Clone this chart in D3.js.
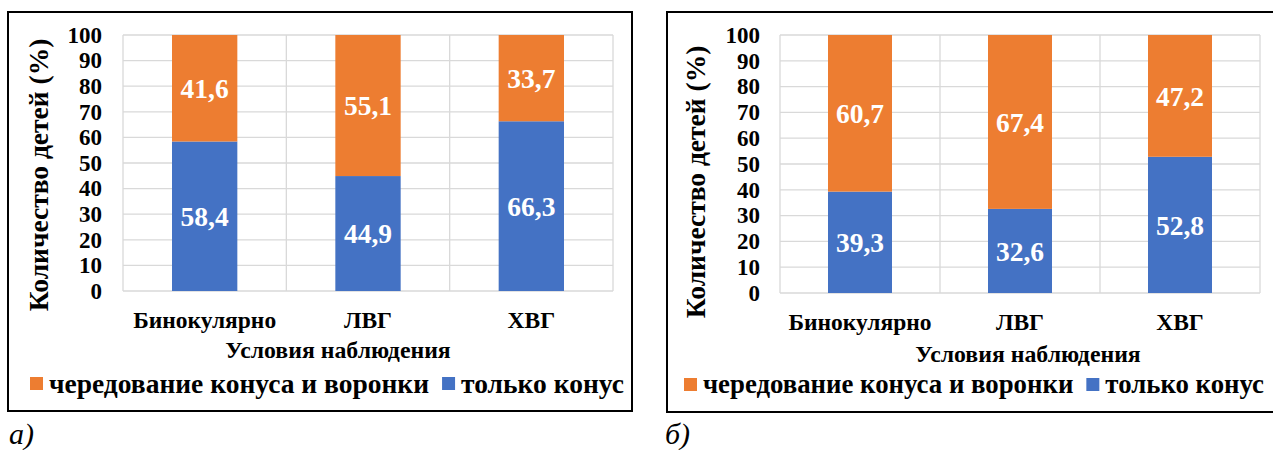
<!DOCTYPE html>
<html>
<head>
<meta charset="utf-8">
<script src="https://cdn.jsdelivr.net/npm/d3@7"></script>
<style>
  html, body { margin: 0; padding: 0; background: #fff; }
  svg { display: block; }
</style>
</head>
<body>
<svg id="chart" width="1273" height="450"></svg>
<script>
const categories = ["Бинокулярно", "ЛВГ", "ХВГ"];
const seriesNames = ["чередование конуса и воронки", "только конус"];
const coneA = [58.4, 44.9, 66.3];
const altA = [41.6, 55.1, 33.7];
const coneB = [39.3, 32.6, 52.8];
const altB = [60.7, 67.4, 47.2];
const yTicks = [0, 10, 20, 30, 40, 50, 60, 70, 80, 90, 100];
const yTitle = "Количество детей (%)";
const xTitle = "Условия наблюдения";
const panelLabels = ["а)", "б)"];

const ORANGE = "#ED7D31", BLUE = "#4472C4", GRID = "#D9D9D9";
const FONT = "'Liberation Serif'";
const svg = d3.select("#chart");

function fmt(v) { return v.toFixed(1).replace(".", ","); }

function panel(cfg, cone, alt, label) {
  const g = svg.append("g");
  g.append("rect").attr("x", cfg.bx0).attr("y", cfg.by0)
    .attr("width", cfg.bx1 - cfg.bx0).attr("height", cfg.by1 - cfg.by0)
    .attr("fill", "none").attr("stroke", "#000").attr("stroke-width", 2);

  const x = d3.scaleBand().domain(categories).range([cfg.px0, cfg.px1])
    .paddingInner(0.6).paddingOuter(0.3);
  const y = d3.scaleLinear().domain([0, 100]).range([cfg.py1, cfg.py0]);

  g.append("g").selectAll("line").data(yTicks).join("line")
    .attr("x1", cfg.px0).attr("x2", cfg.px1)
    .attr("y1", d => y(d)).attr("y2", d => y(d))
    .attr("stroke", GRID).attr("stroke-width", 1.3);
  const bounds = [cfg.px0].concat(categories.map((c, i) => cfg.px0 + (i + 1) * x.step()));
  g.append("g").selectAll("line").data(bounds).join("line")
    .attr("x1", d => d).attr("x2", d => d)
    .attr("y1", cfg.py0).attr("y2", cfg.py1)
    .attr("stroke", GRID).attr("stroke-width", 1.3);

  const rows = categories.map((c, i) => ({ cat: c, cone: cone[i], alt: alt[i] }));
  const stack = d3.stack().keys(["cone", "alt"])(rows);
  const colors = { cone: BLUE, alt: ORANGE };

  stack.forEach(layer => {
    g.append("g").selectAll("rect").data(layer).join("rect")
      .attr("x", d => x(d.data.cat))
      .attr("width", x.bandwidth())
      .attr("y", d => y(d[1]))
      .attr("height", d => y(d[0]) - y(d[1]))
      .attr("fill", colors[layer.key]);
    g.append("g").selectAll("text").data(layer).join("text")
      .attr("x", d => x(d.data.cat) + x.bandwidth() / 2)
      .attr("y", d => (y(d[0]) + y(d[1])) / 2)
      .attr("dy", "0.35em")
      .attr("text-anchor", "middle")
      .style("font-family", FONT)
      .attr("fill", "#fff").attr("font-weight", "bold").attr("font-size", 27.5)
      .text(d => fmt(d.data[layer.key]));
  });

  const yAxis = d3.axisLeft(y).tickValues(yTicks).tickSize(0).tickPadding(cfg.tickPad);
  const ya = g.append("g").attr("transform", `translate(${cfg.px0},0)`).call(yAxis);
  ya.select(".domain").remove();
  ya.selectAll("text").style("font-family", FONT)
    .attr("font-weight", "bold").attr("font-size", 23).attr("fill", "#000");

  const xAxis = d3.axisBottom(x).tickSize(0).tickPadding(cfg.xPad);
  const xa = g.append("g").attr("transform", `translate(0,${cfg.py1})`).call(xAxis);
  xa.select(".domain").remove();
  xa.selectAll("text").style("font-family", FONT)
    .attr("font-weight", "bold").attr("font-size", 23.5).attr("fill", "#000");

  g.append("text")
    .attr("transform", `translate(${cfg.ytX},${cfg.ytY}) rotate(-90)`)
    .attr("text-anchor", "middle").attr("dy", "0.35em")
    .style("font-family", FONT)
    .attr("font-weight", "bold").attr("font-size", 27.5)
    .text(yTitle);
  g.append("text").attr("x", cfg.xtX).attr("y", cfg.xtY)
    .attr("text-anchor", "middle").attr("dy", "0.35em")
    .style("font-family", FONT)
    .attr("font-weight", "bold").attr("font-size", 23.8)
    .text(xTitle);

  const lg = g.append("g");
  const items = [{ name: seriesNames[0], color: ORANGE }, { name: seriesNames[1], color: BLUE }];
  let lx = cfg.legX;
  items.forEach(it => {
    lg.append("rect").attr("x", lx).attr("y", cfg.legY - 6).attr("width", 13).attr("height", 13)
      .attr("fill", it.color);
    const t = lg.append("text").attr("x", lx + 19).attr("y", cfg.legY).attr("dy", "0.35em")
      .style("font-family", FONT)
      .attr("font-weight", "bold").attr("font-size", cfg.legFont).text(it.name);
    lx += 19 + t.node().getComputedTextLength() + 13;
  });

  svg.append("text").attr("x", cfg.labX).attr("y", 444)
    .style("font-family", FONT)
    .attr("font-style", "italic").attr("font-size", 30).text(label);
}

panel({ bx0: 8, by0: 12, bx1: 632, by1: 411, px0: 123, px1: 613, py0: 35, py1: 291,
        tickPad: 21, xPad: 20, ytX: 38.5, ytY: 175, xtX: 338, xtY: 350,
        legX: 30, legY: 383, legFont: 27.5, labX: 9 },
      coneA, altA, panelLabels[0]);
panel({ bx0: 667, by0: 12, bx1: 1290, by1: 412, px0: 780, px1: 1260, py0: 35, py1: 293,
        tickPad: 20, xPad: 20, ytX: 695.5, ytY: 182, xtX: 1028, xtY: 354,
        legX: 684, legY: 384, legFont: 26.8, labX: 665 },
      coneB, altB, panelLabels[1]);
</script>
</body>
</html>
